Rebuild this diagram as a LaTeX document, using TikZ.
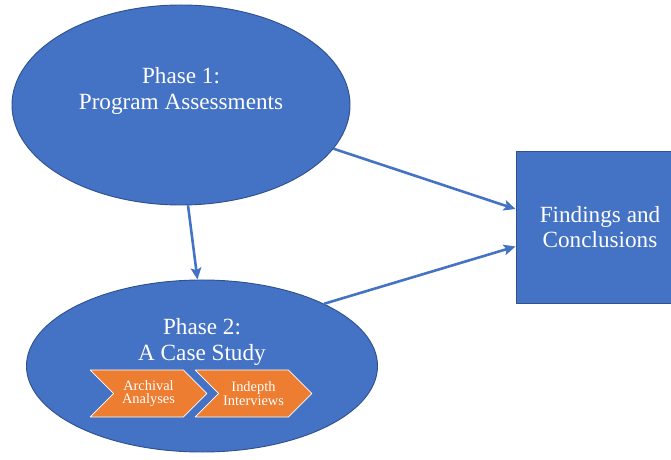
\documentclass[tikz,border=0pt]{standalone}
\usepackage{fontspec}
\setmainfont{Liberation Serif}
\usetikzlibrary{shapes.geometric,shapes.symbols,arrows.meta}
\definecolor{fillblue}{HTML}{4472C4}
\definecolor{edgeblue}{HTML}{2F528F}
\definecolor{chevorange}{HTML}{ED7D31}
\begin{document}
\begin{tikzpicture}[x=0.03cm,y=-0.03cm,line join=round,>={Stealth[length=10pt,width=9pt,inset=2pt]},
	phase/.style={ellipse,draw=edgeblue,line width=0.8pt,fill=fillblue},
	big/.style={text=white,align=center,font=\fontsize{19.8}{22}\selectfont},
	chev/.style={signal,signal from=west,signal to=east,draw=white,line width=0.6pt,fill=chevorange,
		minimum width=3.5cm,minimum height=1.41cm,inner sep=0pt,text=white,align=center,
		font=\fontsize{12.3}{11.5}\selectfont},
	link/.style={->,draw=fillblue,line width=2.2pt}]
	\useasboundingbox (0,0) rectangle (671,460);
	% the two phases
	\node[phase,minimum width=10.14cm,minimum height=6cm] (p1) at (181,105) {};
	\node[phase,minimum width=10.53cm,minimum height=5.16cm] (p2) at (202,366) {};
	\node[big] (t1) at (181,91) {Phase 1:\\Program Assessments};
	\node[big] (t2) at (202,342) {Phase 2:\\A Case Study};
	% steps of the case study
	\foreach \ten/\x/\chu in {c1/148.5/Archival\\Analyses,c2/253.5/Indepth\\Interviews}
	\node[chev] (\ten) at (\x,393.5) {\chu};
	% outcome, runs past the right edge
	\node[big,draw=edgeblue,line width=0.8pt,fill=fillblue,minimum width=5.04cm,minimum height=4.56cm] (res) at (600,227) {Findings and\\Conclusions};
	\draw[link] (p1.-16) -- (res.168);
	\draw[link] (p2.27) -- (res.193);
	\draw[link] (p1.-86) -- (p2.93);
\end{tikzpicture}
\end{document}
